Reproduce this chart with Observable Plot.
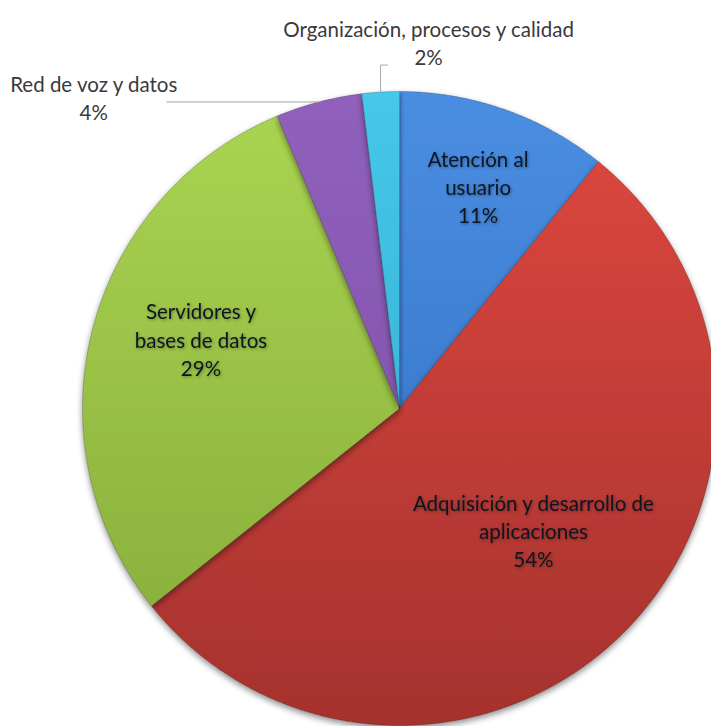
<!DOCTYPE html>
<html><head><meta charset="utf-8">
<script src="https://cdn.jsdelivr.net/npm/d3@7"></script>
<script src="https://cdn.jsdelivr.net/npm/@observablehq/plot@0.6"></script>
<style>
html,body{margin:0;padding:0;background:#fff;}
#chart svg{display:block;}
</style>
</head><body><div id="chart"></div>
<script>
// ---- data ----
const categories = ["Atención al usuario", "Adquisición y desarrollo de aplicaciones", "Servidores y bases de datos", "Red de voz y datos", "Organización, procesos y calidad"];
const labelTexts = ["Atención al\nusuario", "Adquisición y desarrollo de\naplicaciones", "Servidores y\nbases de datos", "Red de voz y datos", "Organización, procesos y calidad"];
const shares = [10.8, 53.5, 29.4, 4.4, 1.9];
const percentLabels = ["11%", "54%", "29%", "4%", "2%"];
const colorsTop = ["#4a8ee2", "#e0483f", "#aad552", "#9060bc", "#45c8ea"];
const colorsBottom = ["#2f6cbe", "#a5322e", "#84aa38", "#7a4ea3", "#2ea6cc"];

// ---- layout settings ----
const cx = 399, cy = 408, R = 317;
const inside = [
  {i: 0, r: 0.745, nudge: 0},
  {i: 1, r: 0.57, nudge: -3},
  {i: 2, r: 0.664, nudge: 5}
];
const outside = [
  {i: 3, elbow: [[-20, 0], [-152, 0]], label: [-225, -5]},
  {i: 4, elbow: [[0, -27], [7, -27]], label: [48, -50]}
];

const pie = d3.pie().sort(null).value(d => d)(shares);
const deg = Math.PI / 180;

const slices = pie.map((p, i) => {
  const pts = [{x: 0, y: 0}];
  const n = Math.max(4, Math.ceil((p.endAngle - p.startAngle) / (0.4 * deg)));
  for (let k = 0; k <= n; k++) {
    const t = p.startAngle + (p.endAngle - p.startAngle) * k / n;
    pts.push({x: Math.sin(t), y: Math.cos(t)});
  }
  return {i, pts, mid: (p.startAngle + p.endAngle) / 2};
});

const insideLabels = inside.map(o => {
  const a = slices[o.i].mid + o.nudge * deg;
  return {x: o.r * Math.sin(a), y: o.r * Math.cos(a), text: labelTexts[o.i] + "\n" + percentLabels[o.i]};
});

const leaders = [];
const outsideLabels = [];
outside.forEach(o => {
  const a = slices[o.i].mid;
  const rx = Math.sin(a), ry = Math.cos(a);
  leaders.push({id: o.i, x: rx, y: ry});
  o.elbow.forEach(([dx, dy]) => leaders.push({id: o.i, x: rx + dx / R, y: ry - dy / R}));
  outsideLabels.push({x: rx + o.label[0] / R, y: ry - o.label[1] / R, text: labelTexts[o.i] + "\n" + percentLabels[o.i]});
});

const sliceMarks = slices.map(s => Plot.line(s.pts, {
  x: "x", y: "y", curve: "linear-closed",
  fill: `url(#grad${s.i})`, stroke: "rgba(0,0,0,0.25)", strokeWidth: 0.8
}));

const chart = Plot.plot({
  width: 711, height: 726,
  margin: 0,
  x: {domain: [-1, 1], range: [cx - R, cx + R], axis: null},
  y: {domain: [-1, 1], range: [cy + R, cy - R], axis: null},
  style: {fontFamily: "Lato, 'Open Sans', sans-serif", background: "white"},
  marks: [
    ...sliceMarks,
    Plot.line(leaders, {x: "x", y: "y", z: "id", stroke: "#a6a6a6", strokeWidth: 1}),
    Plot.text(insideLabels, {x: "x", y: "y", text: "text", fontSize: 20.5, lineHeight: 1.37, fill: "#0d1520", className: "inlab"}),
    Plot.text(outsideLabels, {x: "x", y: "y", text: "text", fontSize: 20.5, lineHeight: 1.37, fill: "#3a3a3a"})
  ]
});

// gradients + shadow
const svg = d3.select(chart);
const defs = svg.insert("defs", ":first-child");
colorsTop.forEach((c, i) => {
  const g = defs.append("linearGradient").attr("id", "grad" + i)
    .attr("gradientUnits", "userSpaceOnUse")
    .attr("x1", 0).attr("x2", 0).attr("y1", cy - R).attr("y2", cy + R);
  g.append("stop").attr("offset", 0).attr("stop-color", c);
  g.append("stop").attr("offset", 1).attr("stop-color", colorsBottom[i]);
});
const f = defs.append("filter").attr("id", "shadow").attr("x", "-10%").attr("y", "-10%").attr("width", "120%").attr("height", "120%");
f.append("feDropShadow").attr("dx", 0).attr("dy", 3).attr("stdDeviation", 3).attr("flood-color", "#000").attr("flood-opacity", 0.45);
const tf = defs.append("filter").attr("id", "tshadow").attr("x", "-10%").attr("y", "-20%").attr("width", "120%").attr("height", "140%");
tf.append("feDropShadow").attr("dx", 1).attr("dy", 1).attr("stdDeviation", 1.5).attr("flood-color", "#000").attr("flood-opacity", 0.35);

svg.selectAll("g[aria-label='line']").filter((d, k, n) => k < slices.length).attr("filter", "url(#shadow)");
svg.selectAll("g.inlab").attr("filter", "url(#tshadow)");

document.getElementById("chart").appendChild(chart);
</script>
</body></html>
